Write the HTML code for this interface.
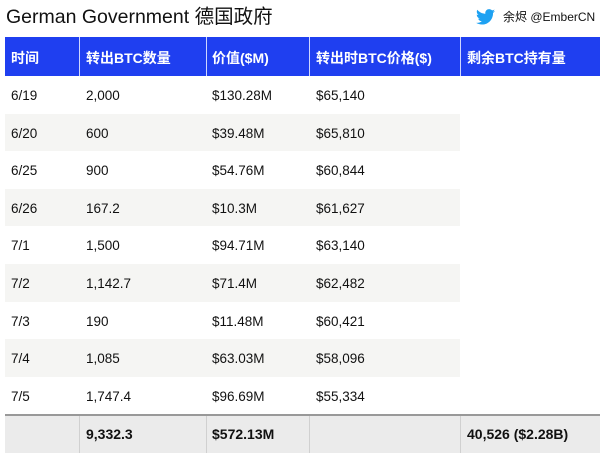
<!DOCTYPE html>
<html><head><meta charset="utf-8"><style>
body{margin:0;width:600px;height:466px;background:#fff;position:relative;overflow:hidden;font-family:"Liberation Sans","Noto Sans CJK SC",sans-serif;color:#111}
.a{position:absolute}
.t{font-size:13.5px;line-height:15px}
.h{font-size:14px;font-weight:bold;color:#fff}
</style></head><body>
<div class="a" style="left:6px;top:5px;font-size:19.5px;line-height:24px;color:#111">German Government 德国政府</div>
<svg class="a" style="left:476px;top:9px" width="19" height="16" viewBox="0 0 24 20"><path fill="#1da1f2" d="M24 2.4c-.9.4-1.8.7-2.8.8 1-.6 1.800-1.600 2.2-2.7-1 .6-2 1-3.1 1.2C19.3.7 18 0 16.6 0c-2.7 0-4.9 2.2-4.9 4.9 0 .4 0 .8.1 1.1C7.7 5.8 4.1 3.9 1.7.9c-.4.7-.7 1.6-.7 2.5 0 1.7.9 3.2 2.2 4.1-.8 0-1.6-.2-2.2-.6v.1c0 2.4 1.7 4.4 3.9 4.8-.4.1-.8.2-1.3.2-.3 0-.6 0-.9-.1.6 2 2.4 3.4 4.6 3.4-1.700 1.300-3.800 2.100-6.100 2.100-.4 0-.8 0-1.2-.1 2.2 1.4 4.8 2.2 7.5 2.2 9.1 0 14-7.5 14-14v-.6c1-.7 1.8-1.6 2.5-2.5z"/></svg>
<div class="a" style="left:503px;top:10px;font-size:12px;line-height:14px">余烬 @EmberCN</div>
<div class="a" style="left:5px;top:37px;width:595px;height:39px;background:#1f3ff0"></div>
<div class="a" style="left:79px;top:37px;width:1px;height:39px;background:#cfd6ff"></div>
<div class="a" style="left:206px;top:37px;width:1px;height:39px;background:#cfd6ff"></div>
<div class="a" style="left:309px;top:37px;width:1px;height:39px;background:#cfd6ff"></div>
<div class="a" style="left:460px;top:37px;width:1px;height:39px;background:#cfd6ff"></div>
<div class="a h" style="left:11px;top:48px">时间</div>
<div class="a h" style="left:86px;top:48px">转出BTC数量</div>
<div class="a h" style="left:212px;top:48px">价值($M)</div>
<div class="a h" style="left:316px;top:48px">转出时BTC价格($)</div>
<div class="a h" style="left:467px;top:48px">剩余BTC持有量</div>
<div id="rows"></div>
<script>
var d=[["6/19","2,000","$130.28M","$65,140"],["6/20","600","$39.48M","$65,810"],["6/25","900","$54.76M","$60,844"],["6/26","167.2","$10.3M","$61,627"],["7/1","1,500","$94.71M","$63,140"],["7/2","1,142.7","$71.4M","$62,482"],["7/3","190","$11.48M","$60,421"],["7/4","1,085","$63.03M","$58,096"],["7/5","1,747.4","$96.69M","$55,334"]];
var xs=[11,86,212,316],h="";
d.forEach(function(r,i){var y=76+i*37.6;
if(i%2==1)h+='<div class="a" style="left:5px;top:'+y+'px;width:455px;height:37.6px;background:#f5f5f3"></div>';
r.forEach(function(c,j){h+='<div class="a t" style="left:'+xs[j]+'px;top:'+(y+12)+'px">'+c+'</div>';});});
document.getElementById("rows").innerHTML=h;
</script>
<div class="a" style="left:5px;top:414px;width:595px;height:2px;background:#999"></div>
<div class="a" style="left:5px;top:416px;width:595px;height:37px;background:#ebebeb"></div>
<div class="a" style="left:79px;top:416px;width:1px;height:37px;background:#d0d0d0"></div>
<div class="a" style="left:206px;top:416px;width:1px;height:37px;background:#d0d0d0"></div>
<div class="a" style="left:309px;top:416px;width:1px;height:37px;background:#d0d0d0"></div>
<div class="a" style="left:460px;top:416px;width:1px;height:37px;background:#d0d0d0"></div>
<div class="a t" style="left:86px;top:427px;font-weight:bold;font-size:14px">9,332.3</div>
<div class="a t" style="left:212px;top:427px;font-weight:bold;font-size:14px">$572.13M</div>
<div class="a t" style="left:467px;top:427px;font-weight:bold;font-size:14px">40,526 ($2.28B)</div>
</body></html>
